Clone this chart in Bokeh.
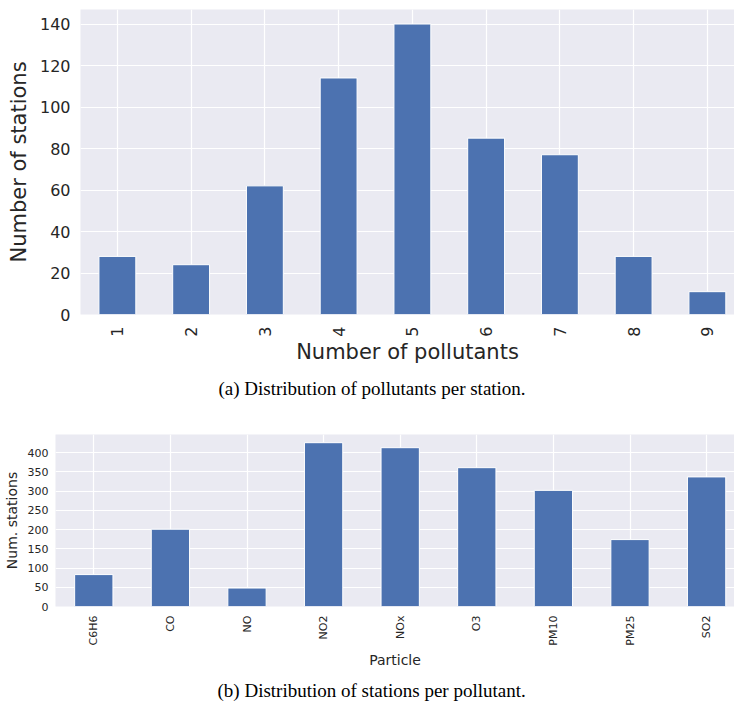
from bokeh.plotting import figure
from bokeh.models import Range1d, FixedTicker, Title
from bokeh.embed import file_html
from bokeh.resources import INLINE
import math

# ---- data ----
n_pollutants = [1, 2, 3, 4, 5, 6, 7, 8, 9]
n_stations = [28, 24, 62, 114, 140, 85, 77, 28, 11]

particles = ["C6H6", "CO", "NO", "NO2", "NOx", "O3", "PM10", "PM25", "SO2"]
stations_per_particle = [83, 201, 48, 426, 413, 361, 302, 174, 337]

top_y_ticks = [0, 20, 40, 60, 80, 100, 120, 140]
bottom_y_ticks = [0, 50, 100, 150, 200, 250, 300, 350, 400]

BAR = "#4C72B0"
BG = "#EAEAF2"
TXT = "#262626"
FONT = "DejaVu Sans"
SERIF = "Liberation Serif"


def style(p, tick_size, label_size, ystand, xstand, ylab_stand, xlab_stand):
    p.background_fill_color = BG
    p.border_fill_color = "white"
    p.outline_line_color = None
    for ax in (p.xaxis[0], p.yaxis[0]):
        ax.axis_line_color = None
        ax.major_tick_line_color = None
        ax.minor_tick_line_color = None
        ax.major_tick_out = 0
        ax.major_tick_in = 0
        ax.major_label_text_font = FONT
        ax.major_label_text_font_size = tick_size
        ax.major_label_text_color = TXT
        ax.axis_label_text_font = FONT
        ax.axis_label_text_font_size = label_size
        ax.axis_label_text_color = TXT
        ax.axis_label_text_font_style = "normal"
    p.yaxis[0].major_label_standoff = ystand
    p.xaxis[0].major_label_standoff = xstand
    p.yaxis[0].axis_label_standoff = ylab_stand
    p.xaxis[0].axis_label_standoff = xlab_stand
    p.xaxis[0].major_label_orientation = math.pi / 2
    for g in (p.xgrid[0], p.ygrid[0]):
        g.grid_line_color = "white"
        g.grid_line_width = 1.2
    p.ygrid[0].minor_grid_line_color = None


# ---- top chart ----
top_max = max(n_stations) * 1.05
p1 = figure(width=734, height=410, output_backend="svg", toolbar_location=None,
            x_range=Range1d(0.5, 0.5 + 654 / 73.75), y_range=Range1d(0, top_max),
            min_border_left=80, min_border_right=0, min_border_top=9, min_border_bottom=96)
p1.vbar(x=n_pollutants, top=n_stations, width=0.5, fill_color=BAR,
        line_color="white", line_width=1)
p1.xaxis[0].ticker = FixedTicker(ticks=n_pollutants)
p1.yaxis[0].ticker = FixedTicker(ticks=top_y_ticks)
p1.xaxis[0].axis_label = "Number of pollutants"
p1.yaxis[0].axis_label = "Number of stations"
style(p1, "16px", "21px", 10, 12, 6, 0)
t1 = Title(text="(a)  Distribution of pollutants per station.", align="left", offset=138,
           text_font=SERIF, text_font_size="19px", text_font_style="normal",
           text_color="black", standoff=18)
p1.add_layout(t1, "below")

# ---- bottom chart ----
bot_max = max(stations_per_particle) * 1.05
xs = list(range(len(particles)))
p2 = figure(width=734, height=297, output_backend="svg", toolbar_location=None,
            x_range=Range1d(-0.5, -0.5 + 679 / 76.6), y_range=Range1d(0, bot_max),
            min_border_left=55, min_border_right=0, min_border_top=24, min_border_bottom=94)
p2.vbar(x=xs, top=stations_per_particle, width=0.5, fill_color=BAR,
        line_color="white", line_width=1)
p2.xaxis[0].ticker = FixedTicker(ticks=xs)
p2.xaxis[0].major_label_overrides = {i: name for i, name in zip(xs, particles)}
p2.yaxis[0].ticker = FixedTicker(ticks=bottom_y_ticks)
p2.xaxis[0].axis_label = "Particle"
p2.yaxis[0].axis_label = "Num. stations"
style(p2, "11px", "14px", 7, 9, 5, 3)
t2 = Title(text="(b)  Distribution of stations per pollutant.", align="left", offset=162,
           text_font=SERIF, text_font_size="19px", text_font_style="normal",
           text_color="black", standoff=14)
p2.add_layout(t2, "below")

open("out.html", "w").write(file_html([p1, p2], INLINE))
